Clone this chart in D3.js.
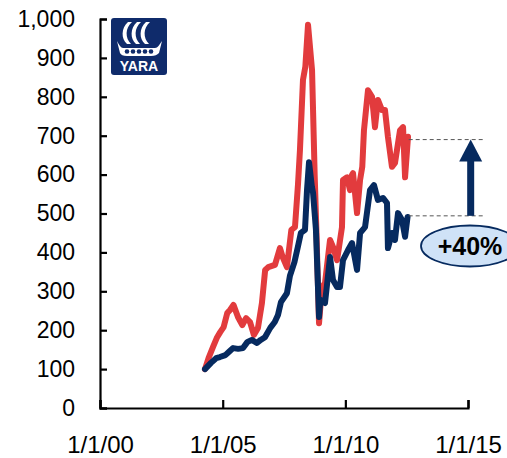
<!DOCTYPE html>
<html>
<head>
<meta charset="utf-8">
<script src="https://cdn.jsdelivr.net/npm/d3@7"></script>
<style>
  body { margin: 0; background: #fff; }
  svg { display: block; font-family: "Liberation Sans", Arial, sans-serif; }
</style>
</head>
<body>
<div id="chart"></div>
<script>
// red series (Yara share price, indexed)
const redDates = ["2004-04-12","2004-06-10","2004-08-10","2004-10-10","2004-11-25","2005-01-15","2005-03-10",
  "2005-04-20","2005-06-10","2005-08-16","2005-10-20","2005-12-15","2006-02-12","2006-04-10","2006-06-10",
  "2006-08-08","2006-09-25","2006-11-10","2007-02-18","2007-05-03","2007-06-17","2007-08-15","2007-10-20",
  "2007-12-13","2008-01-27","2008-02-25","2008-04-10","2008-05-15","2008-06-24","2008-08-23","2008-09-07",
  "2008-10-01","2008-10-28","2008-12-05","2009-01-18","2009-03-04","2009-05-18","2009-07-01","2009-08-30",
  "2009-11-12","2009-11-27","2010-01-26","2010-03-11","2010-04-10","2010-04-25","2010-06-24","2010-08-08",
  "2010-09-10","2010-10-05","2010-12-04","2011-02-02","2011-03-18","2011-05-01","2011-06-30","2011-08-14",
  "2011-09-27","2011-11-26","2012-01-10","2012-03-25","2012-05-09","2012-06-08","2012-07-22"];
const redValues = [100, 131, 157, 182, 195, 208, 244, 252, 265, 234, 213, 231, 221, 188, 206,
  270, 355, 362, 368, 411, 386, 362, 458,
  465, 575, 663, 843, 877, 985, 869, 766,
  600, 450, 218, 311, 321, 432, 414, 380,
  465, 586, 593, 560, 599, 604, 501, 586,
  620, 714, 817, 800, 722, 792, 766, 766,
  697, 620, 630, 714, 722, 593, 697];

// navy series (peer index)
const navyDates = ["2004-04-12","2004-07-10","2004-09-25","2004-11-20","2005-02-10","2005-04-01","2005-06-05",
  "2005-08-20","2005-10-30","2006-01-05","2006-03-10","2006-05-25","2006-07-20","2006-09-22","2006-12-10",
  "2007-02-15","2007-04-04","2007-05-18","2007-08-15","2007-09-29","2007-12-05","2008-01-25","2008-03-10",
  "2008-05-10","2008-06-09","2008-07-09","2008-08-20","2008-09-07","2008-10-20","2008-12-05","2008-12-25",
  "2009-03-04","2009-05-18","2009-07-01","2009-08-30","2009-10-13","2009-11-27","2010-02-10","2010-04-10",
  "2010-06-24","2010-08-08","2010-10-21","2011-01-03","2011-03-03","2011-05-01","2011-07-15","2011-09-13",
  "2011-09-27","2011-11-26","2012-01-10","2012-02-24","2012-04-24","2012-06-08","2012-07-15"];
const navyValues = [100, 116, 128, 131, 136, 144, 154,
  152, 154, 170, 175, 167, 175, 182, 206,
  221, 239, 272, 295, 340, 375, 414, 450,
  458, 560, 632, 569, 553, 458, 234, 278,
  270, 388, 329, 311, 311, 380, 406, 424,
  355, 450, 465, 560, 573, 535, 540, 527,
  411, 450, 432, 501, 483, 440, 491];

const yTicks = [0, 100, 200, 300, 400, 500, 600, 700, 800, 900, 1000];
const xTicks = ["2000-01-01", "2005-01-01", "2010-01-01", "2015-01-01"];

// annotation levels (+40%)
const upperLevel = 690, lowerLevel = 494;
const annoLabel = "+40%";

const W = 507, H = 458;
const parse = d3.timeParse("%Y-%m-%d");

const svg = d3.select("#chart").append("svg")
    .attr("width", W)
    .attr("height", H);

const x = d3.scaleTime()
    .domain([parse("2000-01-01"), parse("2015-01-01")])
    .range([100, 468]);

const y = d3.scaleLinear()
    .domain([0, 1000])
    .range([408, 19]);

// Y axis
const gy = svg.append("g")
    .attr("transform", "translate(100,0)")
    .call(d3.axisLeft(y)
        .tickValues(yTicks)
        .tickFormat(d3.format(","))
        .tickSize(-7)
        .tickPadding(25));
gy.selectAll("text").style("font-size", "23px").attr("fill", "#000");

// X axis
const gx = svg.append("g")
    .attr("transform", "translate(0,408)")
    .call(d3.axisBottom(x)
        .tickValues(xTicks.map(parse))
        .tickFormat(d3.timeFormat("%-m/%-d/%y"))
        .tickSize(-8)
        .tickPadding(28));
gx.selectAll("text").style("font-size", "24px").attr("fill", "#000");

svg.selectAll(".domain, .tick line")
    .attr("stroke", "#000")
    .attr("stroke-width", 2.2);

// lines
const line = d3.line()
    .x(d => x(d[0]))
    .y(d => y(d[1]));

const redData = redDates.map((d, i) => [parse(d), redValues[i]]);
const navyData = navyDates.map((d, i) => [parse(d), navyValues[i]]);

svg.append("path")
    .attr("d", line(redData))
    .attr("fill", "none")
    .attr("stroke", "#e23b3d")
    .attr("stroke-width", 6)
    .attr("stroke-linejoin", "round")
    .attr("stroke-linecap", "round");

svg.append("path")
    .attr("d", line(navyData))
    .attr("fill", "none")
    .attr("stroke", "#062a5f")
    .attr("stroke-width", 6)
    .attr("stroke-linejoin", "round")
    .attr("stroke-linecap", "round");

// dashed reference lines
const dashStart = parse("2012-08-01"), dashEnd = parse("2015-08-15");
[upperLevel, lowerLevel].forEach(v => {
    svg.append("line")
        .attr("x1", x(dashStart)).attr("x2", x(dashEnd))
        .attr("y1", y(v)).attr("y2", y(v))
        .attr("stroke", "#555")
        .attr("stroke-width", 1)
        .attr("stroke-dasharray", "4,3");
});

// arrow
const ax = x(parse("2015-02-10"));
const headBase = y(upperLevel) + 22;
svg.append("rect")
    .attr("x", ax - 3.5)
    .attr("y", headBase - 1)
    .attr("width", 7)
    .attr("height", y(lowerLevel) - headBase + 1)
    .attr("fill", "#062a5f");
svg.append("path")
    .attr("d", `M${ax - 11.5},${headBase}L${ax + 11.5},${headBase}L${ax},${y(upperLevel)}Z`)
    .attr("fill", "#062a5f");

// +40% bubble
svg.append("ellipse")
    .attr("cx", 470).attr("cy", 246)
    .attr("rx", 49).attr("ry", 20.5)
    .attr("fill", "#cfe2f7")
    .attr("stroke", "#062a5f")
    .attr("stroke-width", 1.8);
svg.append("text")
    .attr("x", 470).attr("y", 255)
    .attr("text-anchor", "middle")
    .style("font-size", "25px")
    .style("font-weight", "bold")
    .text(annoLabel);

// logo
const logo = svg.append("g").attr("transform", "translate(111,18)");
logo.append("rect")
    .attr("width", 56).attr("height", 57)
    .attr("rx", 3)
    .attr("fill", "#0f2b6b");
[0, 9, 18].forEach(dx => {
    logo.append("path")
        .attr("d", `M${17 + dx},4 C${10 + dx},10 ${10 + dx},21 ${16 + dx},26 L${20 + dx},26 C${14 + dx},20 ${14 + dx},10 ${21 + dx},4 Z`)
        .attr("fill", "#fff");
});
logo.append("path")
    .attr("d", "M6,23 C8,27 10,30 12,30 L44,30 C47,30 48,27 51,23 L48,35 C46,37 44,38 40,38 L16,38 C12,38 10,37 9,35 Z")
    .attr("fill", "#fff");
[16, 22, 28, 34, 40].forEach(cx => {
    logo.append("circle")
        .attr("cx", cx).attr("cy", 33.5)
        .attr("r", 2.3)
        .attr("fill", "#0f2b6b");
});
logo.append("text")
    .attr("x", 28).attr("y", 53)
    .attr("text-anchor", "middle")
    .attr("fill", "#fff")
    .style("font-size", "14px")
    .style("font-weight", "bold")
    .text("YARA");
</script>
</body>
</html>
